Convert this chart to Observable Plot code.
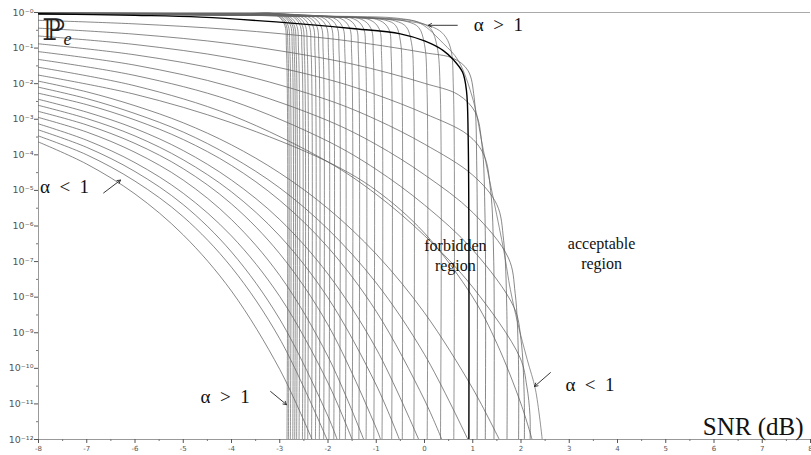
<!DOCTYPE html>
<html><head><meta charset="utf-8">
<script src="https://cdn.jsdelivr.net/npm/d3@7"></script>
<script src="https://cdn.jsdelivr.net/npm/@observablehq/plot@0.6"></script>
<style>body{margin:0;background:#fff}#chart svg{display:block}</style>
</head><body><div id="chart"></div>
<script>
// ---------- data (x = SNR in dB, values = log10 of Pe) ----------
const xTicks = [-8,-7,-6,-5,-4,-3,-2,-1,0,1,2,3,4,5,6,7,8];
const xMinorTicks = [-7.5,-6.5,-5.5,-4.5,-3.5,-2.5,-1.5,-0.5,0.5,1.5,2.5,3.5,4.5,5.5,6.5,7.5];
const yTickExponents = [0,-1,-2,-3,-4,-5,-6,-7,-8,-9,-10,-11,-12];
const yMinorExponents = [-0.5,-1.5,-2.5,-3.5,-4.5,-5.5,-6.5,-7.5,-8.5,-9.5,-10.5,-11.5];

// alpha = 1 (bold black curve)
const alphaOneCurve = [[-8,-0.036],[-6,-0.08],[-4.64,-0.13],[-2.57,-0.32],[-1.5,-0.45],[-0.5,-0.6],[0,-0.8],[0.39,-1.07],[0.6,-1.33],[0.79,-1.68],[0.87,-2.2],[0.905,-3.5],[0.92,-12]];

// alpha > 1 family: start near 1, sharp cliff
const steepCurves = [
 [[-8,-0.015],[-3.85,-0.04],[-3.10,-0.06],[-2.91,-0.31],[-2.86,-1.06],[-2.85,-12]],
 [[-8,-0.016],[-3.82,-0.04],[-3.07,-0.062],[-2.88,-0.31],[-2.83,-1.06],[-2.82,-12]],
 [[-8,-0.017],[-3.78,-0.042],[-3.03,-0.066],[-2.84,-0.32],[-2.79,-1.07],[-2.78,-12]],
 [[-8,-0.018],[-3.73,-0.044],[-2.98,-0.069],[-2.79,-0.32],[-2.74,-1.07],[-2.73,-12]],
 [[-8,-0.019],[-3.69,-0.046],[-2.94,-0.072],[-2.75,-0.32],[-2.70,-1.07],[-2.69,-12]],
 [[-8,-0.020],[-3.65,-0.048],[-2.90,-0.075],[-2.71,-0.33],[-2.66,-1.08],[-2.65,-12]],
 [[-8,-0.021],[-3.60,-0.05],[-2.85,-0.079],[-2.66,-0.33],[-2.61,-1.08],[-2.60,-12]],
 [[-8,-0.022],[-3.53,-0.053],[-2.78,-0.084],[-2.59,-0.33],[-2.54,-1.08],[-2.53,-12]],
 [[-8,-0.023],[-3.48,-0.056],[-2.73,-0.088],[-2.54,-0.34],[-2.49,-1.09],[-2.48,-12]],
 [[-8,-0.024],[-3.42,-0.059],[-2.67,-0.093],[-2.48,-0.34],[-2.43,-1.09],[-2.42,-12]],
 [[-8,-0.025],[-3.34,-0.062],[-2.59,-0.098],[-2.40,-0.35],[-2.35,-1.10],[-2.34,-12]],
 [[-8,-0.026],[-3.26,-0.065],[-2.51,-0.104],[-2.32,-0.35],[-2.27,-1.10],[-2.26,-12]],
 [[-8,-0.027],[-3.18,-0.069],[-2.43,-0.111],[-2.24,-0.36],[-2.19,-1.11],[-2.18,-12]],
 [[-8,-0.028],[-3.09,-0.073],[-2.34,-0.117],[-2.15,-0.37],[-2.10,-1.12],[-2.09,-12]],
 [[-8,-0.029],[-2.98,-0.077],[-2.23,-0.125],[-2.04,-0.38],[-1.99,-1.13],[-1.98,-12]],
 [[-8,-0.030],[-2.88,-0.082],[-2.13,-0.133],[-1.94,-0.38],[-1.89,-1.13],[-1.88,-12]],
 [[-8,-0.031],[-2.76,-0.087],[-2.01,-0.142],[-1.82,-0.39],[-1.77,-1.14],[-1.76,-12]],
 [[-8,-0.032],[-2.64,-0.092],[-1.89,-0.151],[-1.70,-0.40],[-1.65,-1.15],[-1.64,-12]],
 [[-8,-0.033],[-2.50,-0.097],[-1.75,-0.161],[-1.56,-0.41],[-1.51,-1.16],[-1.50,-12]],
 [[-8,-0.034],[-2.36,-0.103],[-1.61,-0.172],[-1.42,-0.42],[-1.37,-1.17],[-1.36,-12]],
 [[-8,-0.035],[-2.21,-0.109],[-1.46,-0.183],[-1.27,-0.43],[-1.22,-1.18],[-1.21,-12]],
 [[-8,-0.036],[-2.05,-0.116],[-1.30,-0.195],[-1.11,-0.45],[-1.06,-1.20],[-1.05,-12]],
 [[-8,-0.037],[-1.88,-0.123],[-1.13,-0.208],[-0.94,-0.46],[-0.89,-1.21],[-0.88,-12]],
 [[-8,-0.038],[-1.68,-0.131],[-0.93,-0.223],[-0.74,-0.47],[-0.69,-1.22],[-0.68,-12]],
 [[-8,-0.039],[-1.46,-0.14],[-0.80,-0.22],[-0.60,-0.36],[-0.50,-0.8],[-0.465,-2],[-0.46,-12]],
 [[-8,-0.040],[-1.22,-0.149],[-0.60,-0.24],[-0.38,-0.40],[-0.27,-0.85],[-0.225,-2],[-0.22,-12]],
 [[-8,-0.041],[-0.94,-0.16],[-0.35,-0.26],[-0.12,-0.42],[0.0,-0.9],[0.052,-2.1],[0.056,-12]],
 [[-8,-0.042],[-0.67,-0.171],[-0.10,-0.28],[0.13,-0.46],[0.26,-0.95],[0.326,-2.2],[0.331,-12]],
 [[-8,-0.043],[-0.5,-0.22],[0.19,-0.42],[0.40,-0.62],[0.54,-1.0],[0.60,-2.2],[0.607,-12]],
 [[-8,-0.03],[-4,-0.06],[-2,-0.10],[-0.5,-0.17],[-0.08,-0.31],[0.39,-0.87],[0.70,-1.35],[1.01,-2.47],[1.22,-3.87],[1.64,-6.67],[1.78,-7.79],[1.93,-8.72],[2.13,-9.76],[2.30,-10.6],[2.44,-12]]
];

// alpha < 1 family: start lower, smooth decay
const gradualCurves = [
 [[-8,-0.22],[-6,-0.32],[-4,-0.48],[-2,-0.73],[-1,-0.91],[0,-1.13],[0.6,-1.29],[0.9,-1.63],[1.03,-2.4],[1.085,-4.5],[1.09,-12]],
 [[-8,-0.44],[-6,-0.61],[-4,-0.88],[-2,-1.31],[-1,-1.61],[0,-1.99],[0.7,-2.31],[1.05,-2.8],[1.19,-3.7],[1.255,-5.8],[1.26,-12]],
 [[-8,-0.66],[-6,-0.90],[-4,-1.28],[-2,-1.88],[-1,-2.31],[0,-2.84],[0.9,-3.44],[1.23,-4.0],[1.37,-5.0],[1.435,-7.0],[1.44,-12]],
 [[-8,-0.88],[-6,-1.19],[-4,-1.68],[-2,-2.46],[-1,-3.01],[0,-3.70],[1,-4.57],[1.5,-5.4],[1.64,-6.4],[1.705,-8.3],[1.71,-12]],
 [[-8,-1.10],[-6,-1.48],[-4,-2.09],[-2,-3.04],[-1,-3.71],[0,-4.56],[1,-5.62],[1.74,-6.9],[1.88,-7.9],[1.945,-9.6],[1.95,-12]],
 [[-8,-1.32],[-6,-1.77],[-4,-2.48],[-2,-3.62],[-1,-4.41],[0,-5.41],[1,-6.67],[1.86,-8.3],[2.0,-9.2],[2.065,-10.7],[2.07,-12]],
 [[-8,-1.54],[-6,-2.06],[-4,-2.89],[-2,-4.20],[-1,-5.11],[0,-6.27],[1,-7.72],[1.98,-9.7],[2.12,-10.5],[2.185,-11.3],[2.19,-12]],
 [[-8,-1.76],[-6,-2.30],[-4,-3.10],[-2,-4.20],[-1,-5.00],[0,-6.20],[1,-8.00],[1.5,-9.3],[2,-11.0],[2.23,-12]],
 [[-8,-1.93],[-7,-2.23],[-6,-2.62],[-5,-3.10],[-4,-3.72],[-3,-4.51],[-2,-5.51],[-1,-6.79],[0,-8.44],[1,-10.57],[1.55,-12]],
 [[-8,-2.10],[-7,-2.42],[-6,-2.84],[-5,-3.36],[-4,-4.05],[-3,-4.93],[-2,-6.09],[-1,-7.60],[0,-9.61],[0.9,-12]],
 [[-8,-2.27],[-7,-2.59],[-6,-3.02],[-5,-3.57],[-4,-4.30],[-3,-5.28],[-2,-6.60],[-1,-8.40],[0,-10.89],[0.36,-12]],
 [[-8,-2.44],[-7,-2.80],[-6,-3.26],[-5,-3.88],[-4,-4.71],[-3,-5.82],[-2,-7.35],[-1,-9.45],[-0.12,-12]],
 [[-8,-2.61],[-7,-2.98],[-6,-3.47],[-5,-4.14],[-4,-5.04],[-3,-6.28],[-2,-8.02],[-1,-10.47],[-0.52,-12]],
 [[-8,-2.78],[-7,-3.16],[-6,-3.68],[-5,-4.39],[-4,-5.38],[-3,-6.78],[-2,-8.78],[-1,-11.68],[-0.91,-12]],
 [[-8,-2.95],[-7,-3.36],[-6,-3.93],[-5,-4.71],[-4,-5.82],[-3,-7.39],[-2,-9.67],[-1.26,-12]],
 [[-8,-3.13],[-7,-3.59],[-6,-4.22],[-5,-5.08],[-4,-6.28],[-3,-7.98],[-2,-10.41],[-1.5,-12]],
 [[-8,-3.30],[-7,-3.79],[-6,-4.47],[-5,-5.40],[-4,-6.73],[-3,-8.62],[-2,-11.35],[-1.81,-12]],
 [[-8,-3.47],[-7,-4.00],[-6,-4.74],[-5,-5.74],[-4,-7.16],[-3,-9.17],[-2.02,-12]],
 [[-8,-3.64],[-7,-4.26],[-6,-5.10],[-5,-6.25],[-4,-7.83],[-3,-10.03],[-2.33,-12]]
];

// annotations (data coordinates: x in dB, l = log10 Pe)
const mathLabels = [
 {text: "α\u2002<\u20021", x: -7.97, l: -4.91},
 {text: "α\u2002>\u20021", x: 1.02, l: -0.36},
 {text: "α\u2002>\u20021", x: -4.64, l: -10.79},
 {text: "α\u2002<\u20021", x: 2.92, l: -10.46}
];
const arrowNotes = [
 {x1: -6.65, l1: -5.07, x2: -6.30, l2: -4.71},
 {x1: 0.68, l1: -0.36, x2: 0.08, l2: -0.36},
 {x1: -3.19, l1: -10.65, x2: -2.86, l2: -11.02},
 {x1: 2.61, l1: -10.12, x2: 2.28, l2: -10.51}
];
const regionLabels = [
 {text: "forbidden\nregion", x: 0.64, l: -6.81},
 {text: "acceptable\nregion", x: 3.67, l: -6.76}
];
const axisTitle = "SNR (dB)";
const yTitle = "ℙ";
const yTitleSub = "e";

// ---------- build tables ----------
const toRows = (curves, tag) => curves.flatMap((pts, i) => pts.map(([x, l]) => ({curve: tag + i, x, pe: 10 ** l})));
const steepRows = toRows(steepCurves, "s");
const gradualRows = toRows(gradualCurves, "g");
const blackRows = toRows([alphaOneCurve], "b");
const sup = {"-": "⁻", "0": "⁰", "1": "¹", "2": "²", "3": "³", "4": "⁴", "5": "⁵", "6": "⁶", "7": "⁷", "8": "⁸", "9": "⁹"};
const fmtPow = d => { const e = Math.round(Math.log10(d)); return "10" + ("-" + Math.abs(e)).split("").map(c => sup[c]).join(""); };

const chart = Plot.plot({
  width: 811, height: 455,
  marginLeft: 38, marginRight: 1, marginTop: 12, marginBottom: 16,
  style: {background: "#fff", fontFamily: "DejaVu Sans"},
  x: {domain: [-8, 8]},
  y: {type: "log", domain: [1e-12, 1]},
  marks: [
    Plot.ruleY([1], {stroke: "#aaa", strokeWidth: 1}),
    Plot.ruleY([1e-12], {stroke: "#999", strokeWidth: 1}),
    Plot.ruleX([-8], {stroke: "#999", strokeWidth: 1}),
    Plot.axisX({ticks: xTicks, tickSize: 4, tickPadding: 3, fontSize: 7, tickFormat: d => String(d), color: "#555", label: null}),
    Plot.axisX({ticks: xMinorTicks, tickSize: 2, tickFormat: () => "", color: "#777", label: null}),
    Plot.axisY({ticks: yTickExponents.map(e => 10 ** e), tickSize: 4, tickPadding: 1, fontSize: 9.5, tickFormat: fmtPow, color: "#555", label: null}),
    Plot.axisY({ticks: yMinorExponents.map(e => 10 ** e), tickSize: 2, tickFormat: () => "", color: "#777", label: null}),
    Plot.line(gradualRows, {x: "x", y: "pe", z: "curve", curve: "catmull-rom", stroke: "#555", strokeWidth: 0.7, clip: true}),
    Plot.line(steepRows, {x: "x", y: "pe", z: "curve", curve: "catmull-rom", stroke: "#666", strokeWidth: 0.7, clip: true}),
    Plot.line(blackRows, {x: "x", y: "pe", z: "curve", curve: "catmull-rom", stroke: "#000", strokeWidth: 1.4, clip: true}),
    Plot.text(mathLabels, {x: "x", y: d => 10 ** d.l, text: "text", textAnchor: "start", fontSize: 19, fontFamily: "Liberation Serif", fill: "#111"}),
    Plot.arrow(arrowNotes, {x1: "x1", y1: d => 10 ** d.l1, x2: "x2", y2: d => 10 ** d.l2, stroke: "#222", strokeWidth: 0.9, headLength: 6}),
    Plot.text(regionLabels, {x: "x", y: d => 10 ** d.l, text: "text", textAnchor: "middle", fontSize: 16, lineHeight: 1.25, fontFamily: "Liberation Serif", fill: "#111"}),
    Plot.text([axisTitle], {frameAnchor: "bottom-right", dx: -7, dy: -5, lineAnchor: "bottom", textAnchor: "end", fontSize: 25, fontFamily: "Liberation Serif", fill: "#111"}),
    Plot.text([yTitle], {frameAnchor: "top-left", dx: 4, dy: 6, lineAnchor: "top", textAnchor: "start", fontSize: 30, fontFamily: "DejaVu Serif", fill: "#222"}),
    Plot.text([yTitleSub], {frameAnchor: "top-left", dx: 25, dy: 20, lineAnchor: "top", textAnchor: "start", fontSize: 18, fontStyle: "italic", fontFamily: "Liberation Serif", fill: "#222"})
  ]
});
document.getElementById("chart").appendChild(chart);
</script>
</body></html>
